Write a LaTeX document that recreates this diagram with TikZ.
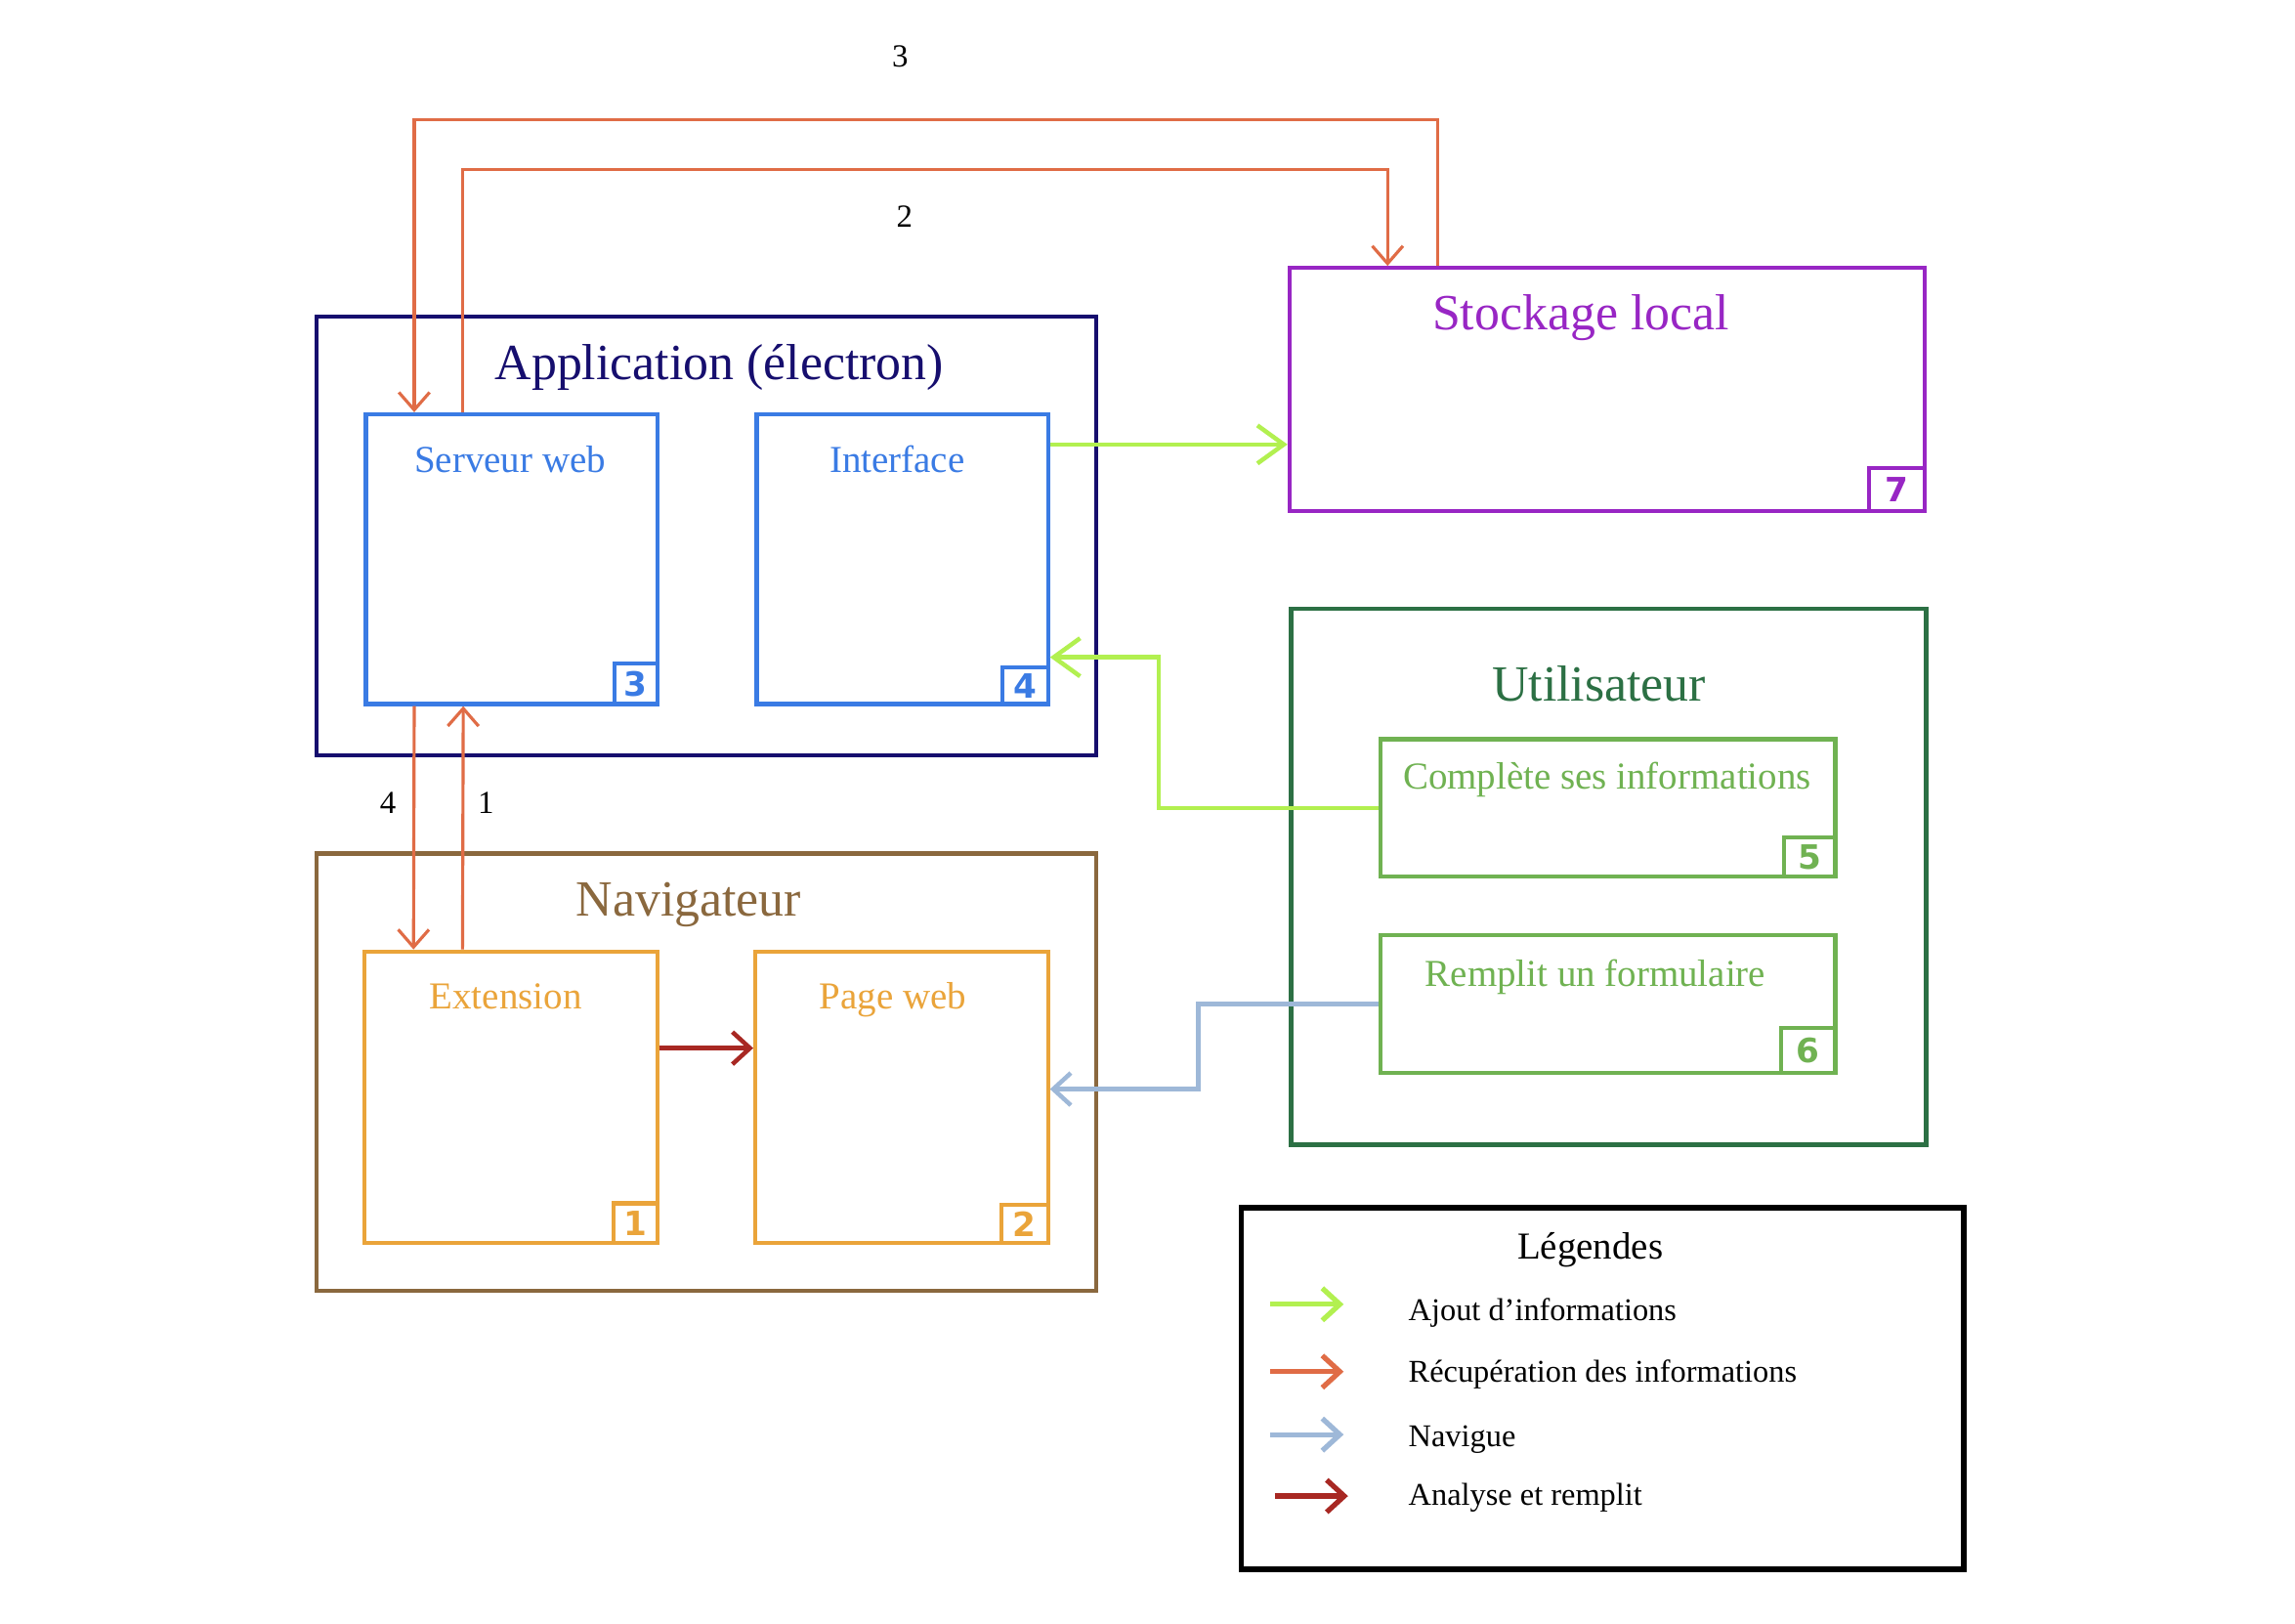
\documentclass[tikz,border=0pt]{standalone}
\usepackage{fontspec}
\setmainfont{Liberation Serif}
\newfontfamily\bdgfont{DejaVu Sans}
\usetikzlibrary{arrows.meta,calc}
\definecolor{cOr}{RGB}{224,108,70}
\definecolor{cGa}{RGB}{178,240,80}
\definecolor{cBg}{RGB}{158,184,216}
\definecolor{cDr}{RGB}{168,40,35}
\definecolor{cNavy}{RGB}{22,14,110}
\definecolor{cBlue}{RGB}{58,123,228}
\definecolor{cPurp}{RGB}{152,38,196}
\definecolor{cDg}{RGB}{44,112,68}
\definecolor{cLg}{RGB}{112,178,82}
\definecolor{cBrown}{RGB}{138,104,62}
\definecolor{cOrb}{RGB}{234,164,58}
\begin{document}
\begin{tikzpicture}[x=0.02cm,y=-0.02cm,
  box/.style={draw, line width=1.6pt, inner sep=0pt, rectangle},
  bigt/.style={font=\fontsize{19.7}{22}\selectfont, inner sep=0pt, anchor=base},
  midt/.style={font=\fontsize{14.8}{17}\selectfont, inner sep=0pt, anchor=base},
  legt/.style={font=\fontsize{12.3}{14}\selectfont, inner sep=0pt, anchor=base west},
  numt/.style={font=\fontsize{12.5}{14}\selectfont, inner sep=0pt, anchor=base},
  badge/.style={draw=#1, text=#1, line width=1.6pt, inner sep=0pt, anchor=south east,
     font=\bdgfont\bfseries\fontsize{13}{13}\selectfont},
  orarr/.style={draw=cOr, line width=1.2pt, -{Straight Barb[length=0.24cm,width=0.42cm,line width=1.2pt]}},
  garr/.style={draw=cGa, line width=1.7pt, -{Straight Barb[length=0.36cm,width=0.52cm,line width=1.7pt]}},
  barr/.style={draw=cBg, line width=1.7pt, -{Straight Barb[length=0.24cm,width=0.44cm,line width=1.7pt]}},
  rarr/.style={draw=cDr, line width=1.7pt, -{Straight Barb[length=0.24cm,width=0.44cm,line width=1.7pt]}},
  legarr/.style={line width=2pt, -{Straight Barb[length=0.24cm,width=0.44cm,line width=2pt]}}
]
\useasboundingbox (0,0) rectangle (1568,1109);
\fill[white] (0,0) rectangle (1568,1109);

% containers
\node[box, draw=cNavy, minimum width=10.66cm, minimum height=6.0cm] (app) at (482.5,366) {};
\node[box, draw=cBrown, minimum width=10.66cm, minimum height=5.98cm] (nav) at (482.5,732.5) {};
\node[box, draw=cPurp, minimum width=8.68cm, minimum height=3.32cm] (stock) at (1098,266) {};
\node[box, draw=cDg, minimum width=8.68cm, minimum height=7.32cm] (user) at (1099,599) {};
\node[box, draw=black, line width=2.2pt, minimum width=9.88cm, minimum height=4.94cm] (leg) at (1095,948.5) {};

% inner boxes
\node[box, draw=cBlue, minimum width=3.98cm, minimum height=3.96cm] (serv) at (349.5,382) {};
\node[box, draw=cBlue, minimum width=3.98cm, minimum height=3.96cm] (iface) at (616.5,382) {};
\node[box, draw=cOrb, minimum width=4.0cm, minimum height=3.98cm] (ext) at (349,749.5) {};
\node[box, draw=cOrb, minimum width=4.0cm, minimum height=3.98cm] (page) at (616,749.5) {};
\node[box, draw=cLg, minimum width=6.22cm, minimum height=1.88cm] (comp) at (1098.5,552) {};
\node[box, draw=cLg, minimum width=6.22cm, minimum height=1.88cm] (remp) at (1098.5,686) {};

% titles
\node[bigt, text=cNavy] (appT) at (491.5,259) {Application (électron)};
\node[bigt, text=cBrown] (navT) at (470.5,626) {Navigateur};
\node[bigt, text=cPurp] (stockT) at (1080,225) {Stockage local};
\node[bigt, text=cDg] (userT) at (1092.5,479) {Utilisateur};
\node[midt, text=cBlue] (servT) at (348.5,323) {Serveur web};
\node[midt, text=cBlue] (ifaceT) at (613,323) {Interface};
\node[midt, text=cOrb] (extT) at (345.5,689) {Extension};
\node[midt, text=cOrb] (pageT) at (610,689) {Page web};
\node[midt, text=cLg] (compT) at (1098,539) {Complète ses informations};
\node[midt, text=cLg] (rempT) at (1090,674) {Remplit un formulaire};

% badges
\node[badge=cBlue, minimum width=0.58cm, minimum height=0.56cm] (b3) at (serv.south east) {3};
\node[badge=cBlue, minimum width=0.62cm, minimum height=0.50cm] (b4) at (iface.south east) {4};
\node[badge=cOrb, minimum width=0.60cm, minimum height=0.54cm] (b1) at (ext.south east) {1};
\node[badge=cOrb, minimum width=0.64cm, minimum height=0.52cm] (b2) at (page.south east) {2};
\node[badge=cLg, minimum width=0.70cm, minimum height=0.54cm] (b5) at (comp.south east) {5};
\node[badge=cLg, minimum width=0.74cm, minimum height=0.62cm] (b6) at (remp.south east) {6};
\node[badge=cPurp, minimum width=0.76cm, minimum height=0.58cm] (b7) at (stock.south east) {7};

% orange connectors
\draw[orarr] ([xshift=-2.32cm]stock.north) -- ++(0,2.0cm) -| ([xshift=-1.33cm]serv.north);
\draw[orarr] ([xshift=-0.67cm]serv.north) -- ++(0,3.32cm) -| ([xshift=-3.0cm]stock.north);
\draw[orarr] ([xshift=-1.33cm]serv.south) -- ([xshift=-1.33cm]ext.north);
\draw[orarr] ([xshift=-0.66cm]ext.north) -- ([xshift=-0.66cm]serv.south);

% green connectors
\coordinate (g1) at ([yshift=-0.44cm]iface.north east);
\draw[garr] (g1) -- (g1 -| stock.west);
\draw[garr] (comp.west) -- ++(-3.0cm,0) |- ([yshift=-1.34cm]iface.east);

% blue-grey connector
\draw[barr] (remp.west) -- ++(-2.46cm,0) |- ([yshift=0.11cm]page.east);

% dark red connector
\draw[rarr] ([yshift=0.67cm]ext.east) -- ([yshift=0.67cm]page.west);

% numbers
\node[numt] (n3) at (615,46) {3};
\node[numt] (n2) at (618,155) {2};
\node[numt] (n4) at (265,556) {4};
\node[numt] (n1) at (332,556) {1};

% legend
\node[midt] (legT) at (1086.5,860) {Légendes};
\coordinate (la1) at (868,891); \coordinate (lb1) at (918,891);
\coordinate (la2) at (868,937); \coordinate (lb2) at (918,937);
\coordinate (la3) at (868,980); \coordinate (lb3) at (918,980);
\coordinate (la4) at (871,1022); \coordinate (lb4) at (921,1022);
\draw[legarr, draw=cGa] (la1) -- (lb1);
\draw[legarr, draw=cOr] (la2) -- (lb2);
\draw[legarr, draw=cBg] (la3) -- (lb3);
\draw[legarr, draw=cDr] (la4) -- (lb4);
\node[legt] (l1) at (962,902) {Ajout d’informations};
\node[legt] (l2) at (962,944) {Récupération des informations};
\node[legt] (l3) at (962,988) {Navigue};
\node[legt] (l4) at (962,1028) {Analyse et remplit};
\end{tikzpicture}
\end{document}
